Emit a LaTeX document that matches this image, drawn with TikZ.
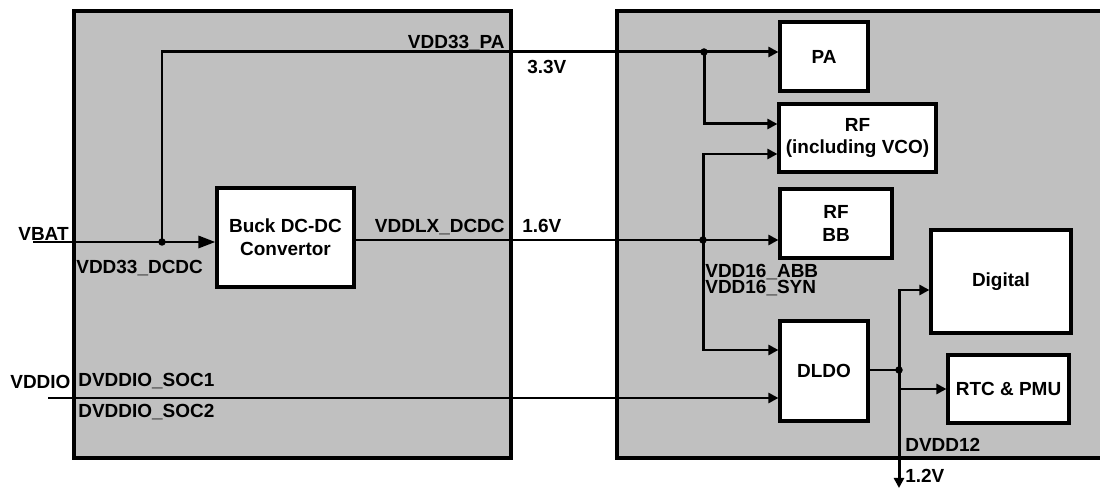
\documentclass[tikz,border=0pt]{standalone}
\usepackage{fontspec}
\setmainfont{Liberation Sans}
\usepackage{xcolor}
\definecolor{boxgray}{RGB}{192,192,192}
\usetikzlibrary{arrows.meta,positioning}

\begin{document}
\begin{tikzpicture}[
  every node/.style={font=\fontsize{10.8}{13}\selectfont\bfseries},
  graybox/.style={draw,line width=2.2pt,fill=boxgray,inner sep=0pt},
  pmblock/.style={draw,line width=1.8pt,fill=white,align=center,inner sep=2pt},
  wire/.style={line width=1.7pt},
  arr/.style={-{Triangle[length=0.2cm,width=0.2cm]},line width=1.7pt},
  bigarr/.style={-{Triangle[length=0.34cm,width=0.24cm]},line width=1.7pt},
  jdot/.style={circle,fill,inner sep=0pt,minimum size=0.15cm},
  lbl/.style={inner sep=0pt},
]
  \useasboundingbox (0,0) rectangle (22,9.76);

  % Chip outlines
  \node[graybox,minimum width=8.74cm,minimum height=8.94cm] (pmu) at (5.85,5.07) {};
  \node[graybox,minimum width=9.76cm,minimum height=8.94cm] (soc) at (17.22,5.07) {};

  % Blocks
  \node[pmblock,minimum width=2.74cm,minimum height=1.98cm] (buck) at (5.71,5.01)
    {Buck DC-DC\\Convertor};
  \node[pmblock,minimum width=1.76cm,minimum height=1.38cm] (pa) at (16.48,8.63) {PA};
  \node[pmblock,minimum width=3.14cm,minimum height=1.36cm] (rf) at (17.15,7.0)
    {RF\\(including VCO)};
  \node[pmblock,minimum width=2.24cm,minimum height=1.38cm] (rfbb) at (16.72,5.29)
    {RF\\BB};
  \node[pmblock,minimum width=2.8cm,minimum height=2.06cm] (digital) at (20.02,4.13)
    {Digital};
  \node[pmblock,minimum width=1.76cm,minimum height=2.0cm] (dldo) at (16.48,2.34) {DLDO};
  \node[pmblock,minimum width=2.42cm,minimum height=1.36cm] (rtc) at (20.17,1.98)
    {RTC \& PMU};

  % Free ends and junctions
  \coordinate (vbat) at (0.66,4.92);
  \coordinate (vddio) at (0.96,1.80);
  \coordinate (out12) at (17.98,0);
  \node[jdot] (j33) at (3.24,4.92) {};
  \node[jdot] (jpa) at (14.08,8.72) {};
  \node[jdot] (j16) at (14.06,4.96) {};
  \node[jdot] (j12) at (17.98,2.36) {};

  % Supply rails
  \draw[bigarr] (vbat) -- (vbat -| buck.west);
  \draw[arr] (j33.center) |- (jpa -| pa.west);
  \draw[arr] (jpa.center) |- ([yshift=0.28cm]rf.west);
  \draw[arr] (buck.east |- j16) -- (j16 -| rfbb.west);
  \draw[arr] (j16.center) |- ([yshift=-0.32cm]rf.west);
  \draw[arr] (j16.center) |- ([yshift=0.42cm]dldo.west);
  \draw[arr] (vddio) -- (vddio -| dldo.west);
  \draw[wire] (dldo.east |- j12) -- (j12.center);
  \draw[arr] (j12.center) |- ([yshift=-0.17cm]digital.west);
  \draw[arr] (j12 |- rtc.west) -- (rtc.west);
  \draw[arr] (j12.center) -- (out12);

  % Labels
  \node[lbl,anchor=base west] (vbatlbl) at (0.36,4.94) {VBAT};
  \node[lbl,anchor=base west] (dcdclbl) at (1.52,4.28) {VDD33\_DCDC};
  \node[lbl,anchor=base east] (palbl) at (10.1,8.78) {VDD33\_PA};
  \node[lbl,anchor=base west] (v33lbl) at (10.54,8.28) {3.3V};
  \node[lbl,anchor=base east] (lxlbl) at (10.1,5.1) {VDDLX\_DCDC};
  \node[lbl,anchor=base west] (v16lbl) at (10.44,5.1) {1.6V};
  \node[lbl,anchor=north west,align=left,font=\fontsize{10.8}{9.3}\selectfont\bfseries]
    (abblbl) at (14.1,4.49) {VDD16\_ABB\\VDD16\_SYN};
  \node[lbl,anchor=base west] (vddiolbl) at (0.2,1.98) {VDDIO};
  \node[lbl,anchor=base west] (soc1lbl) at (1.56,2.02) {DVDDIO\_SOC1};
  \node[lbl,anchor=base west] (soc2lbl) at (1.56,1.40) {DVDDIO\_SOC2};
  \node[lbl,anchor=base west] (dvddlbl) at (18.1,0.72) {DVDD12};
  \node[lbl,anchor=base west] (v12lbl) at (18.1,0.12) {1.2V};
\end{tikzpicture}
\end{document}
